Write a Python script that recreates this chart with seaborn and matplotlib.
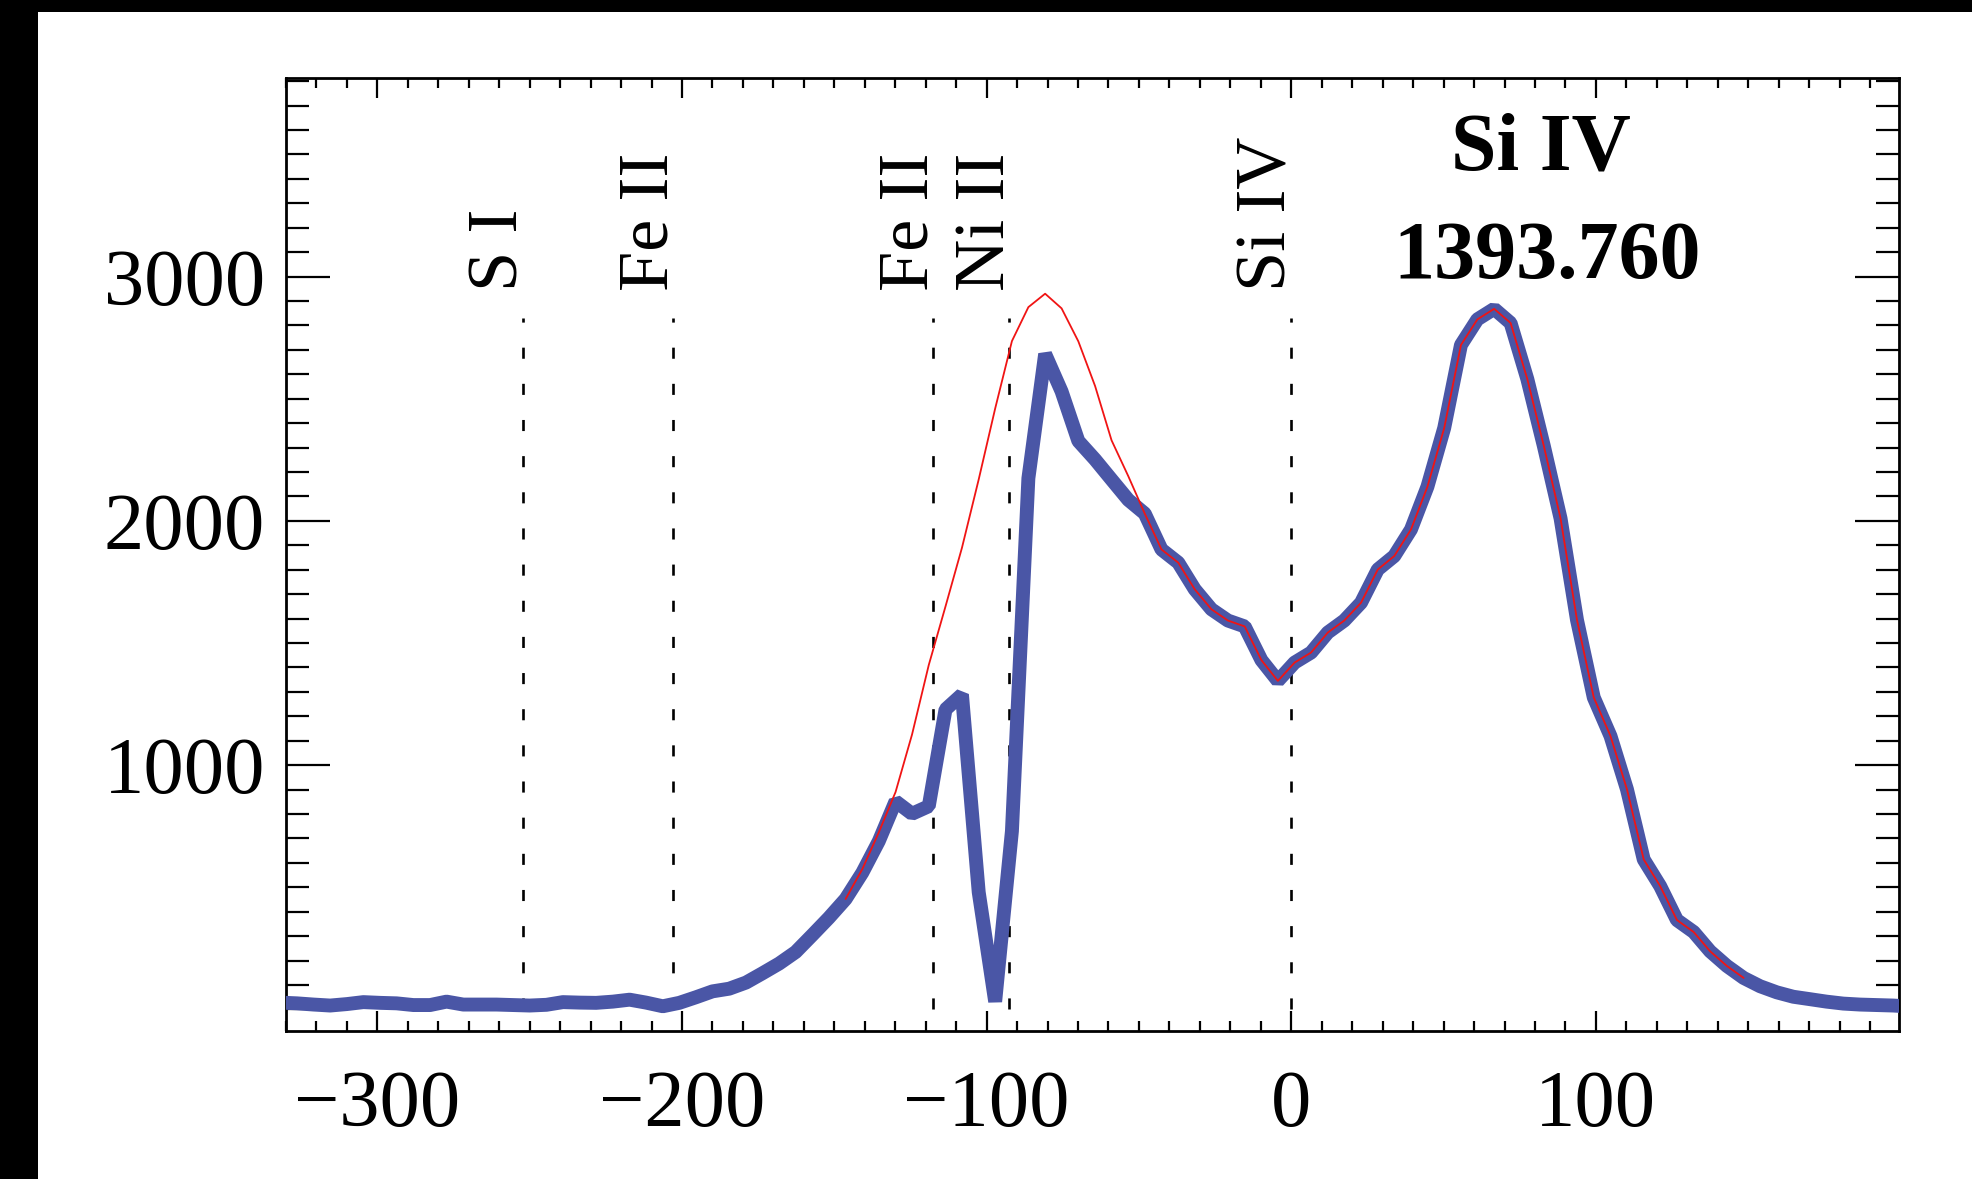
import numpy as np
import pandas as pd
import matplotlib
matplotlib.use("Agg")
import matplotlib.pyplot as plt
from matplotlib.patches import Rectangle
from matplotlib.ticker import FixedLocator, MultipleLocator
import matplotlib.transforms as mtransforms
import seaborn as sns

# Doppler velocity grid (km/s) relative to Si IV 1393.760 A
velocity = [
    -331.9, -326.4, -320.9, -315.5, -310.0, -304.6, -299.1, -293.7, -288.2, -282.7,
    -277.3, -271.8, -266.4, -260.9, -255.5, -250.0, -244.5, -239.1, -233.6, -228.2,
    -222.7, -217.2, -211.8, -206.3, -200.9, -195.4, -190.0, -184.5, -179.0, -173.6,
    -168.1, -162.7, -157.2, -151.8, -146.3, -140.8, -135.4, -129.9, -124.5, -119.0,
    -113.5, -108.1, -102.6, -97.2, -91.7, -86.3, -80.8, -75.4, -69.9, -64.4,
    -59.0, -53.5, -48.1, -42.6, -37.1, -31.7, -26.2, -20.8, -15.3, -9.8,
    -4.4, 1.1, 6.5, 12.0, 17.4, 22.9, 28.4, 33.8, 39.3, 44.7,
    50.2, 55.7, 61.1, 66.6, 72.0, 77.5, 82.9, 88.4, 93.8, 99.3,
    104.8, 110.2, 115.7, 121.1, 126.6, 132.1, 137.5, 143.0, 148.5, 153.9,
    159.4, 164.8, 170.3, 175.7, 181.2, 186.7, 192.1, 197.6, 203.0,
]

# Observed Si IV intensity
observed = [
    28, 25, 20, 16, 22, 30, 27, 25, 18, 18,
    32, 20, 20, 20, 18, 16, 19, 30, 28, 27,
    32, 40, 28, 13, 27, 50, 74, 85, 110, 148,
    188, 235, 305, 375, 452, 560, 689, 852, 801, 832,
    1228, 1289, 480, 32, 730, 2174, 2683, 2530, 2327, 2251,
    2169, 2086, 2030, 1883, 1829, 1720, 1638, 1592, 1568, 1430,
    1345, 1420, 1461, 1543, 1592, 1665, 1801, 1856, 1965, 2140,
    2380, 2720, 2825, 2868, 2810, 2580, 2307, 2010, 1594, 1277,
    1119, 901, 614, 505, 366, 317, 238, 178, 129, 95,
    70, 52, 42, 32, 24, 20, 18, 16, 12,
]

# Reconstructed (unabsorbed) profile, defined on the central part of the grid
model_velocity = velocity[34:89]
model = [
    452, 575, 725, 890, 1125, 1410, 1650, 1890, 2170, 2460,
    2736, 2875, 2930, 2870, 2735, 2552, 2330, 2183, 2030, 1883,
    1829, 1720, 1638, 1592, 1568, 1430, 1345, 1420, 1461, 1543,
    1592, 1665, 1801, 1856, 1965, 2140, 2380, 2720, 2825, 2868,
    2810, 2580, 2307, 2010, 1594, 1277, 1119, 901, 614, 505,
    366, 317, 238, 178, 129,
]

# Blend lines marked in the window
line_names = ["S I", "Fe II", "Fe II", "Ni II", "Si IV"]
line_velocity = [-252.1, -202.9, -117.6, -92.5, 0.0]

x_ticks = [-300, -200, -100, 0, 100]
y_ticks = [1000, 2000, 3000]
title_lines = ["Si IV", "1393.760"]

sns.set_theme(style="white")
plt.rcParams["font.family"] = ["Liberation Serif", "DejaVu Serif"]

W, H = 1972, 1179
fig = plt.figure(figsize=(W / 100, H / 100), dpi=100)
fig.patch.set_facecolor("white")

ax = fig.add_axes([286 / W, 1 - 1030.7 / H, 1613 / W, (1030.7 - 78) / H])
ax.set_facecolor("white")

obs_df = pd.DataFrame({"v": velocity, "I": observed})
mod_df = pd.DataFrame({"v": model_velocity, "I": model})

sns.lineplot(data=obs_df, x="v", y="I", ax=ax, color="#4a56a6", linewidth=10,
             sort=False, estimator=None, solid_joinstyle="bevel",
             solid_capstyle="butt", zorder=3)
sns.lineplot(data=mod_df, x="v", y="I", ax=ax, color="#f01414", linewidth=1.3,
             sort=False, estimator=None, zorder=4)

# Dashed markers for the blend lines
ax.vlines(line_velocity, 0, 2830, colors="black", linewidth=1.9,
          linestyles=(0, (4.2, 9.5)), zorder=2)
lab_tr = mtransforms.offset_copy(ax.transData, fig=fig, x=-23, y=0, units="dots")
for name, v in zip(line_names, line_velocity):
    ax.text(v, 2942, name, rotation=90, ha="center", va="bottom",
            fontsize=52, color="black", transform=lab_tr, zorder=5)

ax.text(82, 3440, title_lines[0], ha="center", va="baseline", fontsize=59,
        fontweight="bold", color="black")
ax.text(84, 2995, title_lines[1], ha="center", va="baseline", fontsize=59,
        fontweight="bold", color="black")

ax.set_xlim(-330, 199.5)
ax.set_ylim(-87, 3813)
ax.xaxis.set_major_locator(FixedLocator(x_ticks))
ax.xaxis.set_minor_locator(MultipleLocator(10))
ax.yaxis.set_major_locator(FixedLocator(y_ticks))
ax.yaxis.set_minor_locator(MultipleLocator(100))
ax.set_xlabel("")
ax.set_ylabel("")

for s in ax.spines.values():
    s.set_visible(True)
    s.set_color("black")
    s.set_linewidth(2.0)

ax.tick_params(axis="x", which="major", direction="in", length=14.5, width=1.6,
               top=True, bottom=True, labelsize=58, pad=28, colors="black")
ax.tick_params(axis="x", which="minor", direction="in", length=7.2, width=1.6,
               top=True, bottom=True, colors="black")
ax.tick_params(axis="y", which="major", direction="in", length=32, width=1.6,
               left=True, right=True, labelsize=58, pad=15, colors="black")
ax.tick_params(axis="y", which="minor", direction="in", length=16.5, width=1.6,
               left=True, right=True, colors="black")
ax.grid(False)

# Dark frame along the left and top edges of the canvas
fig.add_artist(Rectangle((0, 0), 38 / W, 1, transform=fig.transFigure,
                         facecolor="black", edgecolor="none", zorder=10))
fig.add_artist(Rectangle((0, 1 - 12 / H), 1, 12 / H, transform=fig.transFigure,
                         facecolor="black", edgecolor="none", zorder=10))

fig.savefig("out.png", dpi=100, facecolor=fig.get_facecolor())
